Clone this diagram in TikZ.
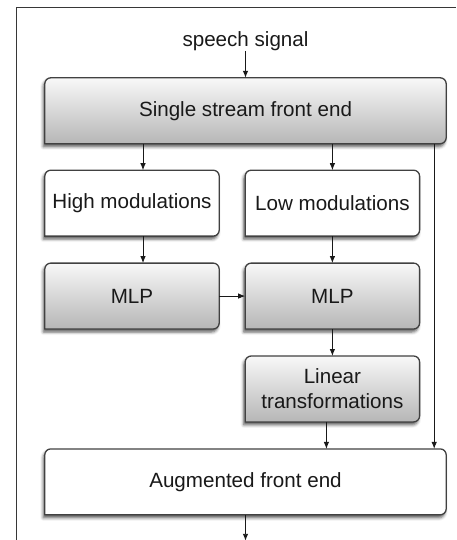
\documentclass[tikz,border=0pt]{standalone}
\usepackage{fontspec}
\setmainfont{Liberation Sans}
\usetikzlibrary{positioning,arrows.meta,backgrounds,shadows.blur}
\definecolor{BoxEdge}{RGB}{65,65,65}
\definecolor{BoxTop}{RGB}{248,248,248}
\definecolor{BoxBottom}{RGB}{182,182,182}
\definecolor{FrameGray}{RGB}{55,55,55}
\definecolor{LinkBlack}{RGB}{25,25,25}

\begin{document}
\begin{tikzpicture}[
		x=1pt,y=1pt,
		block/.style={
			minimum width=174pt,
			minimum height=65.5pt,
			inner sep=0pt,
			align=center,
			text=LinkBlack,
			font=\fontsize{20.6}{25}\selectfont
		},
		wideblock/.style={block, minimum width=401pt},
		boxedge/.style={
			draw=BoxEdge,
			line width=1.3pt,
			blur shadow={shadow xshift=-1.5pt, shadow yshift=-3pt, shadow blur radius=3pt, shadow opacity=65}
		},
		shadedbox/.style={boxedge, top color=BoxTop, bottom color=BoxBottom},
		plainbox/.style={boxedge, fill=white},
		link/.style={LinkBlack, line width=0.9pt, -{Latex[length=7pt,width=5.5pt]}}
	]
	
	\useasboundingbox (0,0) rectangle (456,-540);
	\draw[FrameGray, line width=1pt] (16,-540) -- (16,-8) -- (456,-8);
	
	\node[
	wideblock
	]
	(single) at (245.5,-110.75)
	{Single stream front end};
	
	\node[
	inner sep=0pt,
	text=LinkBlack,
	font=\fontsize{20.6}{25}\selectfont,
	above=27pt of single
	]
	(speech)
	{speech signal};
	
	\node[
	block,
	below right=26.5pt and 0pt of single.south west
	]
	(high)
	{High modulations};
	
	\node[
	block,
	right=26pt of high
	]
	(low)
	{Low modulations};
	
	\node[
	block,
	below=27pt of high
	]
	(mlpl)
	{MLP};
	
	\node[
	block,
	below=27pt of low
	]
	(mlpr)
	{MLP};
	
	\node[
	block,
	below=27pt of mlpr
	]
	(lin)
	{Linear\\transformations};
	
	\coordinate (augcorner) at (single.west |- lin.south);
	
	\node[
	wideblock,
	below right=27pt and 0pt of augcorner
	]
	(aug)
	{Augmented front end};
	
	\coordinate[below=26pt of aug] (out);
	
	% boxes behind the labels, rounded on top only
	\begin{scope}[on background layer]
		\foreach \b in {single,mlpl,mlpr,lin}
		\path[shadedbox] (\b.south west) [rounded corners=6pt] |- (\b.north) -| (\b.south east) [sharp corners] -- cycle;
		\foreach \b in {high,low,aug}
		\path[plainbox] (\b.south west) [rounded corners=6pt] |- (\b.north) -| (\b.south east) [sharp corners] -- cycle;
	\end{scope}
	
	\draw[link] (speech) -- (single);
	\draw[link] ([xshift=11pt]high.north |- single.south) -- ([xshift=11pt]high.north);
	\draw[link] (single.south -| low) -- (low);
	\draw[link] ([xshift=11pt]high.south) -- ([xshift=11pt]mlpl.north);
	\draw[link] (low) -- (mlpr);
	\draw[link] (mlpl) -- (mlpr);
	\draw[link] (mlpr) -- (lin);
	\draw[link] ([xshift=-6pt]lin.south) -- ([xshift=-6pt]lin.south |- aug.north);
	\draw[link] ([xshift=-12pt]single.south east) -- ([xshift=-12pt]aug.north east);
	\draw[link] (aug) -- (out);
	
\end{tikzpicture}
\end{document}
